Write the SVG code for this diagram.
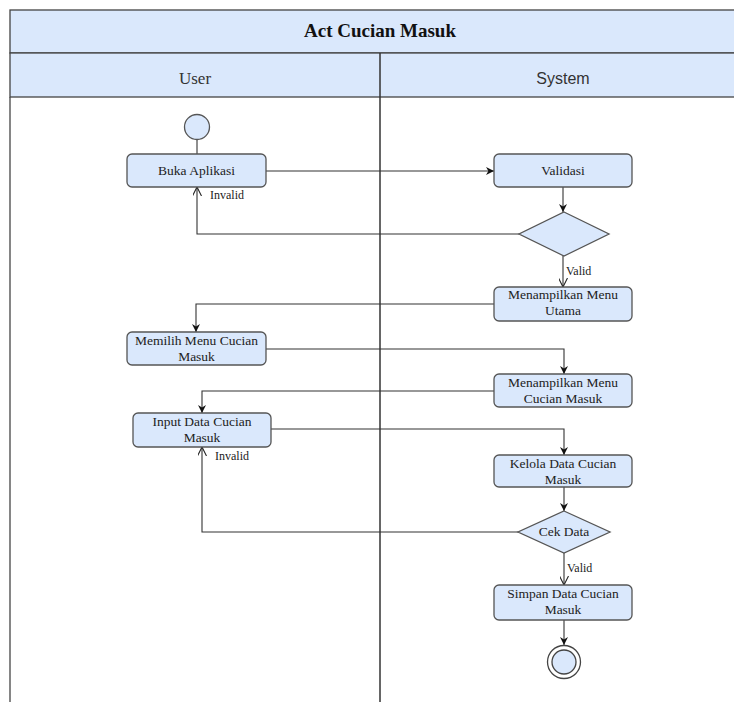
<svg xmlns="http://www.w3.org/2000/svg" width="734" height="702" viewBox="0 0 734 702">
<style>
.band{fill:#dae8fc;stroke:#444;stroke-width:1.3}
.box{fill:#dae8fc;stroke:#555;stroke-width:1.3}
.t{font-family:"Liberation Serif",serif;font-size:13.5px;fill:#222;text-anchor:middle}
.lbl{font-family:"Liberation Serif",serif;font-size:12px;fill:#222}
.c{fill:none;stroke:#333;stroke-width:1.1}
.f{marker-end:url(#fill)}
.o{marker-end:url(#open)}
</style>
<defs>
<marker id="fill" viewBox="0 0 10 10" refX="10" refY="5" markerWidth="8" markerHeight="8" markerUnits="userSpaceOnUse" orient="auto"><path d="M0,0 L10,5 L0,10 L3,5 z" fill="#111"/></marker>
<marker id="open" viewBox="0 0 10 10" refX="10" refY="5" markerWidth="9" markerHeight="9" markerUnits="userSpaceOnUse" orient="auto"><path d="M0,0 L10,5 L0,10" fill="none" stroke="#222" stroke-width="1.2"/></marker>
</defs>
<g id="pool">
<rect class="band" x="10" y="10" width="730" height="43"/>
<text x="380" y="37" style="font-family:'Liberation Serif',serif;font-size:19px;font-weight:bold;fill:#111;text-anchor:middle">Act Cucian Masuk</text>
<rect class="band" x="10" y="53" width="730" height="44"/>
<text x="195" y="84" style="font-family:'Liberation Serif',serif;font-size:17px;fill:#333;text-anchor:middle">User</text>
<text x="563" y="84" style="font-family:'Liberation Sans',sans-serif;font-size:16px;fill:#333;text-anchor:middle">System</text>
<line x1="10" y1="97" x2="10" y2="702" stroke="#444" stroke-width="1.3"/>
<line x1="380" y1="53" x2="380" y2="702" stroke="#333" stroke-width="1.5"/>
</g>
<g id="connectors">
<path class="c" d="M197,139 V154"/>
<path class="c f" d="M266,171 H494"/>
<path class="c f" d="M563,187 V212"/>
<path class="c o" d="M519,234 H197 V187"/>
<path class="c o" d="M563,256 V287"/>
<path class="c f" d="M494,304 H196 V332"/>
<path class="c f" d="M266,349 H564 V374"/>
<path class="c f" d="M494,391 H202 V413"/>
<path class="c f" d="M271,429 H564 V455"/>
<path class="c f" d="M564,487 V511"/>
<path class="c o" d="M518,532 H202 V447"/>
<path class="c o" d="M564,553 V585"/>
<path class="c f" d="M564,620 V645"/>
<text class="lbl" x="210" y="199">Invalid</text>
<text class="lbl" x="566" y="275">Valid</text>
<text class="lbl" x="215" y="460">Invalid</text>
<text class="lbl" x="567" y="572">Valid</text>
</g>
<g id="start"><circle cx="197" cy="127" r="12.5" fill="#dae8fc" stroke="#555" stroke-width="1.3"/></g>
<g id="buka"><rect class="box" x="127" y="154" width="139" height="33" rx="5"/><text class="t" x="196.5" y="175">Buka Aplikasi</text></g>
<g id="validasi"><rect class="box" x="494" y="154" width="138" height="33" rx="5"/><text class="t" x="563" y="175">Validasi</text></g>
<g id="decision1"><polygon class="box" points="564,212 609,234 564,256 519,234"/></g>
<g id="menuUtama"><rect class="box" x="494" y="287" width="138" height="34" rx="5"/><text class="t" x="563" y="299">Menampilkan Menu</text><text class="t" x="563" y="315">Utama</text></g>
<g id="memilih"><rect class="box" x="127" y="332" width="139" height="33" rx="5"/><text class="t" x="196.5" y="345">Memilih Menu Cucian</text><text class="t" x="196.5" y="361">Masuk</text></g>
<g id="menuCucian"><rect class="box" x="494" y="374" width="138" height="33" rx="5"/><text class="t" x="563" y="387">Menampilkan Menu</text><text class="t" x="563" y="403">Cucian Masuk</text></g>
<g id="input"><rect class="box" x="133" y="413" width="138" height="34" rx="5"/><text class="t" x="202" y="426">Input Data Cucian</text><text class="t" x="202" y="442">Masuk</text></g>
<g id="kelola"><rect class="box" x="494" y="455" width="138" height="32" rx="5"/><text class="t" x="563" y="468">Kelola Data Cucian</text><text class="t" x="563" y="484">Masuk</text></g>
<g id="cekData"><polygon class="box" points="564,511 610,532 564,553 518,532"/><text class="t" x="564" y="536">Cek Data</text></g>
<g id="simpan"><rect class="box" x="494" y="585" width="138" height="35" rx="5"/><text class="t" x="563" y="598">Simpan Data Cucian</text><text class="t" x="563" y="614">Masuk</text></g>
<g id="end"><circle cx="564" cy="662" r="16.5" fill="#fff" stroke="#444" stroke-width="1.3"/><circle cx="564" cy="662" r="12" fill="#dae8fc" stroke="#444" stroke-width="1.3"/></g>
</svg>
